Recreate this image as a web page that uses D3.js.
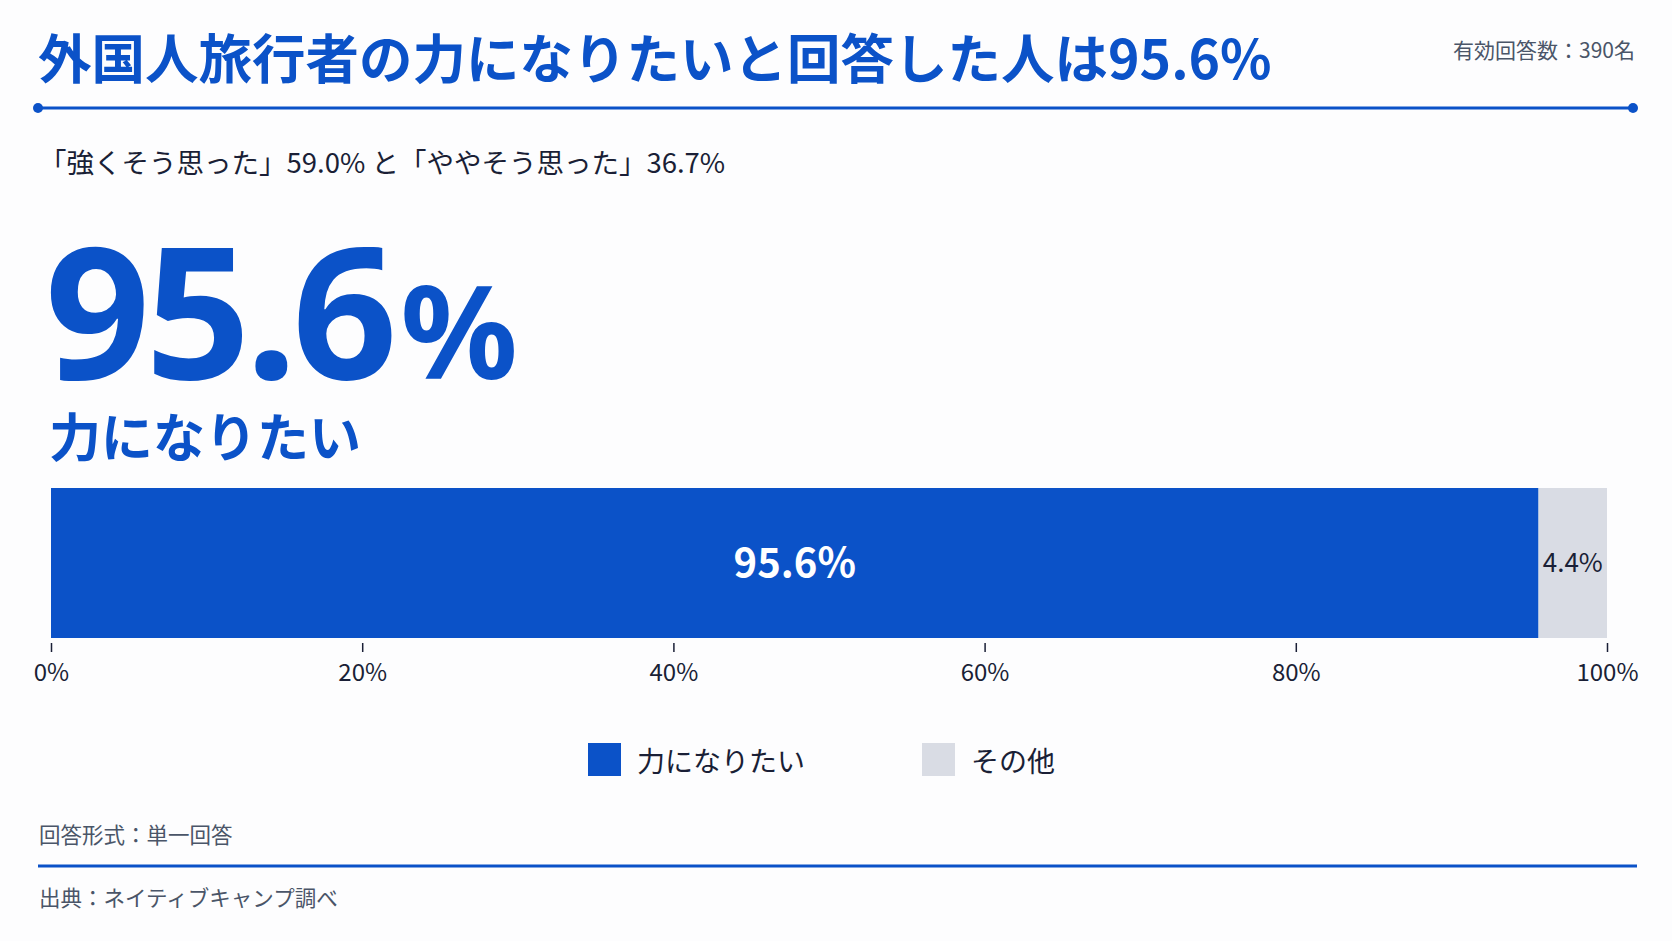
<!DOCTYPE html>
<html>
<head>
<meta charset="utf-8">
<script src="https://cdn.jsdelivr.net/npm/d3@7"></script>
<style>
  html, body { margin: 0; padding: 0; background: #fdfdfe; }
  svg { display: block; font-family: "Noto Sans CJK JP", "Noto Sans", sans-serif; }
</style>
</head>
<body>
<svg id="chart"></svg>
<script>
var CATEGORIES = ["力になりたい", "その他"];
var VALUES = [95.6, 4.4];
var COLORS = ["#0b52c8", "#d9dce4"];
var TICKS = [0, 20, 40, 60, 80, 100];

var TITLE = "外国人旅行者の力になりたいと回答した人は95.6%";
var SUBTITLE = "「強くそう思った」59.0% と「ややそう思った」36.7%";
var N_TEXT = "有効回答数：390名";
var NOTE = "回答形式：単一回答";
var SOURCE = "出典：ネイティブキャンプ調べ";

var BLUE = "#0b52c8", DARK = "#1a1f36", GREY = "#4a5568";
var W = 1672, H = 941;

var svg = d3.select("#chart").attr("width", W).attr("height", H);
svg.append("rect").attr("width", W).attr("height", H).attr("fill", "#fdfdfe");

// header
svg.append("text").attr("x", 38).attr("y", 79)
    .attr("font-size", 53.5).attr("font-weight", 700).attr("fill", BLUE)
    .text(TITLE);
svg.append("text").attr("x", 1635).attr("y", 58).attr("text-anchor", "end")
    .attr("font-size", 21).attr("fill", GREY)
    .text(N_TEXT);

svg.append("line").attr("x1", 38).attr("x2", 1633).attr("y1", 108).attr("y2", 108)
    .attr("stroke", BLUE).attr("stroke-width", 3);
svg.selectAll(".dot").data([38, 1633]).enter().append("circle")
    .attr("cx", function(d) { return d; }).attr("cy", 108).attr("r", 5).attr("fill", BLUE);

svg.append("text").attr("x", 39).attr("y", 173)
    .attr("font-size", 27.5).attr("fill", DARK)
    .text(SUBTITLE);

// big number
var big = svg.append("text").attr("x", 45).attr("y", 379)
    .attr("font-family", "'Noto Sans', sans-serif")
    .attr("font-size", 184).attr("font-weight", 700).attr("fill", BLUE)
    .attr("letter-spacing", "-5");
big.append("tspan").text(d3.format(".1f")(VALUES[0]));
big.append("tspan").attr("font-size", 130).attr("dx", 8).text("%");

svg.append("text").attr("x", 49).attr("y", 457)
    .attr("font-size", 52).attr("font-weight", 700).attr("fill", BLUE)
    .text(CATEGORIES[0]);

// stacked bar
var x = d3.scaleLinear().domain([0, 100]).range([51, 1607]);
var barY = 488, barH = 150;

var stack = [];
var acc = 0;
VALUES.forEach(function(v, i) {
    stack.push({name: CATEGORIES[i], value: v, x0: acc, x1: acc + v, color: COLORS[i]});
    acc += v;
});

var bars = svg.append("g");
bars.selectAll("rect").data(stack).enter().append("rect")
    .attr("x", function(d) { return x(d.x0); })
    .attr("width", function(d) { return x(d.x1) - x(d.x0); })
    .attr("y", barY).attr("height", barH)
    .attr("fill", function(d) { return d.color; });

bars.selectAll("text").data(stack).enter().append("text")
    .attr("x", function(d) { return (x(d.x0) + x(d.x1)) / 2; })
    .attr("y", barY + barH / 2)
    .attr("dy", "0.35em")
    .attr("text-anchor", "middle")
    .attr("font-size", function(d, i) { return i == 0 ? 40 : 26; })
    .attr("font-weight", function(d, i) { return i == 0 ? 700 : 400; })
    .attr("fill", function(d, i) { return i == 0 ? "#ffffff" : DARK; })
    .text(function(d) { return d3.format(".1f")(d.value) + "%"; });

// axis
var axis = d3.axisBottom(x).tickValues(TICKS).tickSize(9).tickPadding(12)
    .tickFormat(function(d) { return d + "%"; });
var ax = svg.append("g").attr("transform", "translate(0," + (barY + barH + 5) + ")").call(axis);
ax.select(".domain").remove();
ax.selectAll(".tick line").attr("stroke", DARK).attr("stroke-width", 1.5);
ax.selectAll(".tick text").attr("font-size", 24).attr("fill", DARK)
    .attr("font-family", "'Noto Sans CJK JP', sans-serif");

// legend
var legendX = [588, 922];
var lg = svg.append("g").selectAll("g").data(stack).enter().append("g")
    .attr("transform", function(d, i) { return "translate(" + legendX[i] + ",743)"; });
lg.append("rect").attr("width", 33).attr("height", 33)
    .attr("fill", function(d) { return d.color; });
lg.append("text").attr("x", 49).attr("y", 19).attr("dy", "0.36em")
    .attr("font-size", 28).attr("fill", DARK)
    .text(function(d) { return d.name; });

// footer
svg.append("text").attr("x", 39).attr("y", 843)
    .attr("font-size", 21.5).attr("fill", GREY).text(NOTE);
svg.append("line").attr("x1", 38).attr("x2", 1637).attr("y1", 866).attr("y2", 866)
    .attr("stroke", BLUE).attr("stroke-width", 3);
svg.append("text").attr("x", 39).attr("y", 906)
    .attr("font-size", 21.5).attr("fill", GREY).text(SOURCE);
</script>
</body>
</html>
